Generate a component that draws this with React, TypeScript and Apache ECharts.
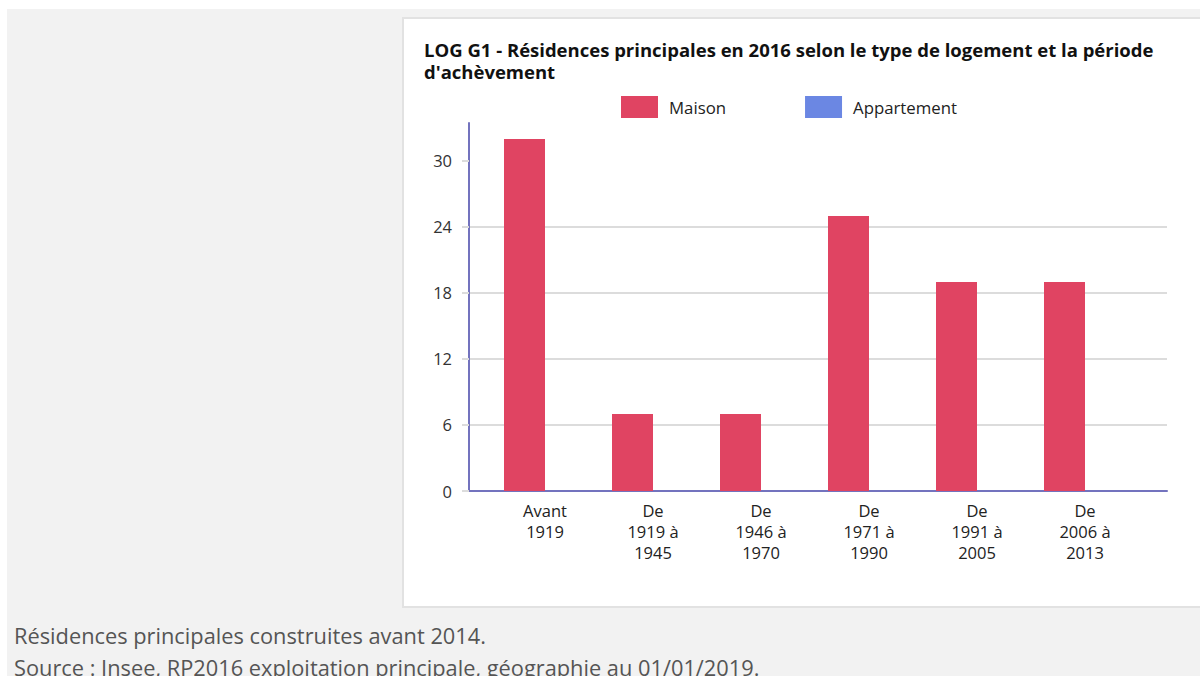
import React, { useEffect, useRef } from "react";
import * as echarts from "echarts";

const categories = [
  "Avant\n1919",
  "De\n1919 à\n1945",
  "De\n1946 à\n1970",
  "De\n1971 à\n1990",
  "De\n1991 à\n2005",
  "De\n2006 à\n2013",
];
const maison = [32, 7, 7, 25, 19, 19];
const appartement = [0, 0, 0, 0, 0, 0];
const yTicks = [0, 6, 12, 18, 24, 30];
const yMax = 33.45;
const titleText =
  "LOG G1 - Résidences principales en 2016 selon le type de logement et la période\nd'achèvement";
const notes = [
  "Résidences principales construites avant 2014.",
  "Source : Insee, RP2016 exploitation principale, géographie au 01/01/2019.",
];

const FONT = "'Open Sans', 'Noto Sans', sans-serif";
const AXIS_COLOR = "#7373be";
const GRID_COLOR = "#dcdcdc";

export default function App() {
  const ref = useRef<HTMLDivElement>(null);
  useEffect(() => {
    if (!ref.current) return;
    const chart = echarts.init(ref.current, undefined, { renderer: "svg" });
    const gridTop = 123;
    const gridBottomY = 491;
    chart.setOption({
      animation: false,
      textStyle: { fontFamily: FONT },
      graphic: [
        { type: "rect", z: -10, shape: { x: 0, y: 0, width: 1200, height: 676 }, style: { fill: "#ffffff" } },
        { type: "rect", z: -9, shape: { x: 7, y: 9, width: 1193, height: 667 }, style: { fill: "#f2f2f2" } },
        {
          type: "rect",
          z: -8,
          shape: { x: 403, y: 18, width: 800, height: 589 },
          style: { fill: "#ffffff", stroke: "#e2e2e2", lineWidth: 2 },
        },
        {
          type: "text",
          x: 14,
          y: 635,
          style: { text: notes[0], fontSize: 21.8, fill: "#555555", fontFamily: FONT, verticalAlign: "middle" },
        },
        {
          type: "text",
          x: 14,
          y: 667,
          style: { text: notes[1], fontSize: 21.8, fill: "#555555", fontFamily: FONT, verticalAlign: "middle" },
        },
      ],
      title: {
        text: titleText,
        left: 424,
        top: 38.5,
        padding: 0,
        textStyle: { fontSize: 18.5, fontWeight: "bold", color: "#111111", lineHeight: 22, fontFamily: FONT },
      },
      legend: {
        left: 621,
        top: 96,
        padding: 0,
        itemWidth: 37,
        itemHeight: 22,
        itemGap: 79,
        icon: "rect",
        textStyle: { fontSize: 16.8, color: "#222222", padding: [0, 0, 0, 6] },
        data: ["Maison", "Appartement"],
      },
      grid: [
        { left: 469, top: gridTop, width: 698, height: gridBottomY - gridTop },
        { left: 491, top: gridTop, width: 648, height: gridBottomY - gridTop },
      ],
      xAxis: [
        {
          type: "value",
          gridIndex: 0,
          min: 0,
          max: 1,
          axisLine: { show: true, lineStyle: { color: AXIS_COLOR, width: 2 } },
          axisTick: { show: false },
          axisLabel: { show: false },
          splitLine: { show: false },
        },
        {
          type: "category",
          gridIndex: 1,
          data: categories,
          axisLine: { show: false },
          axisTick: { show: false },
          axisLabel: { fontSize: 16.5, color: "#222222", lineHeight: 21, margin: 9, interval: 0 },
        },
      ],
      yAxis: [
        {
          type: "value",
          gridIndex: 0,
          min: 0,
          max: yMax,
          interval: 6,
          axisLine: { show: true, lineStyle: { color: AXIS_COLOR, width: 2 } },
          axisTick: {
            show: true,
            length: 7,
            customValues: yTicks,
            lineStyle: { color: GRID_COLOR, width: 2 },
          },
          axisLabel: { fontSize: 16.5, color: "#333333", margin: 17, customValues: yTicks },
          splitLine: { show: true, showMinLine: false, showMaxLine: false, lineStyle: { color: GRID_COLOR, width: 2 } },
        },
        {
          type: "value",
          gridIndex: 1,
          min: 0,
          max: yMax,
          show: false,
        },
      ],
      series: [
        {
          name: "Maison",
          type: "bar",
          xAxisIndex: 1,
          yAxisIndex: 1,
          data: maison,
          barWidth: 41,
          barGap: "0%",
          itemStyle: { color: "#e04462" },
        },
        {
          name: "Appartement",
          type: "bar",
          xAxisIndex: 1,
          yAxisIndex: 1,
          data: appartement,
          barWidth: 41,
          barGap: "0%",
          itemStyle: { color: "#6b87e3" },
        },
      ],
    });
    return () => chart.dispose();
  }, []);
  return <div ref={ref} style={{ position: "absolute", left: 0, top: 0, width: 1200, height: 676 }} />;
}
